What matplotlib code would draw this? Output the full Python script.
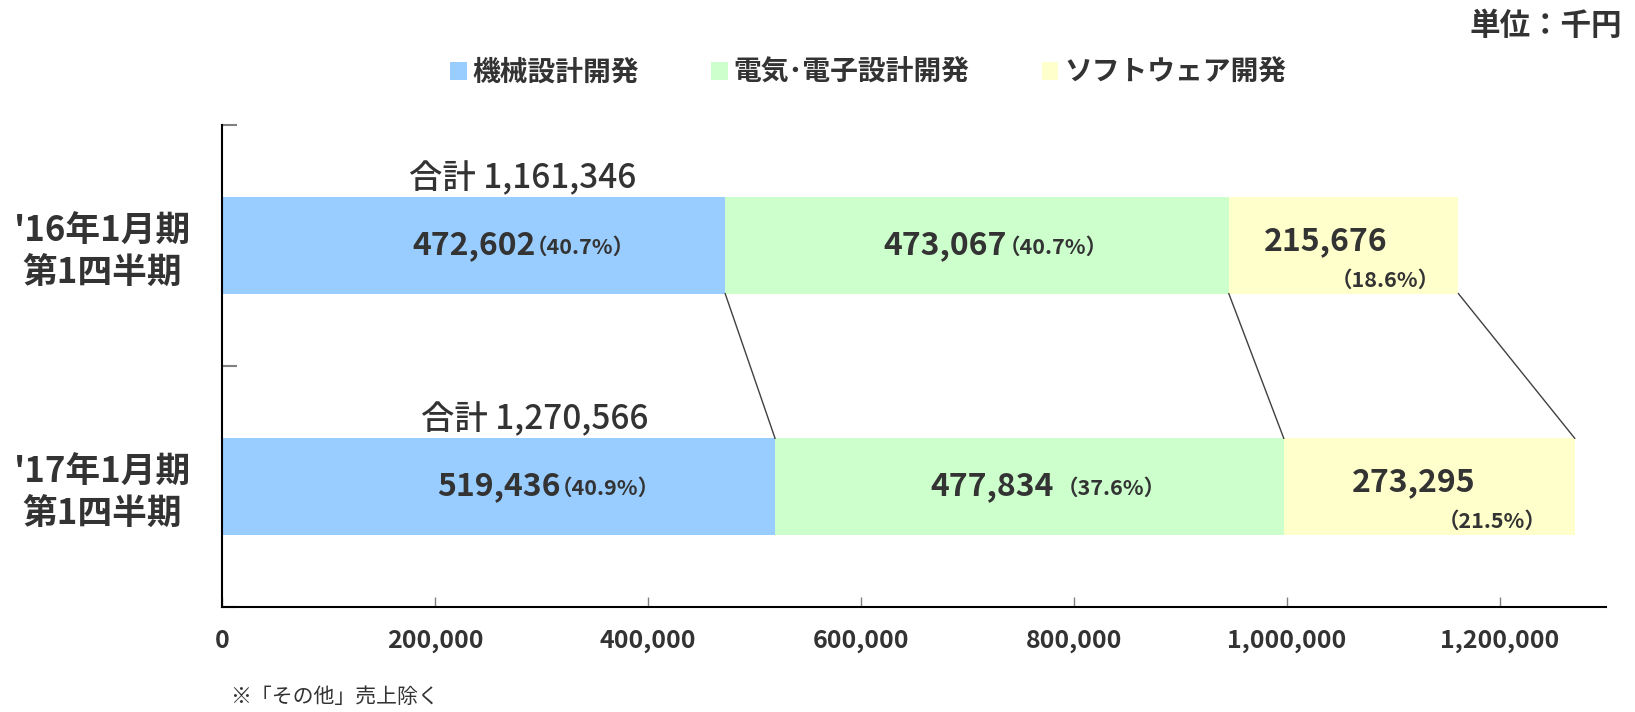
from matplotlib import pyplot as plt
from matplotlib.patches import Patch
import numpy as np

plt.rcParams['font.family'] = ['Noto Sans CJK JP', 'DejaVu Sans']

periods = ["'16年1月期\n第1四半期", "'17年1月期\n第1四半期"]
segments = ['機械設計開発', '電気･電子設計開発', 'ソフトウェア開発']
mech = [472602, 519436]
elec = [473067, 477834]
soft = [215676, 273295]
totals = [1161346, 1270566]
mech_pct = ['40.7%', '40.9%']
elec_pct = ['40.7%', '37.6%']
soft_pct = ['18.6%', '21.5%']
xticks = [0, 200000, 400000, 600000, 800000, 1000000, 1200000]

colors = ['#99CCFF', '#CCFFCC', '#FFFFCC']
text_color = '#333333'

if __name__ == '__main__':
	fig = plt.figure(figsize=(16.35, 7.12), dpi=100)
	ax = fig.add_axes([0.1358, 0.1475, 0.8465, 0.677])

	values = np.array([mech, elec, soft], dtype=float)
	lefts = np.vstack([np.zeros(2), np.cumsum(values, axis=0)[:-1]])
	rights = lefts + values
	pcts = [mech_pct, elec_pct, soft_pct]
	y = np.arange(len(periods))
	h = 0.40

	for i in range(3):
		ax.barh(y, values[i], left=lefts[i], height=h, color=colors[i], linewidth=0)

	# connector lines between the two bars
	for i in range(3):
		ax.plot([rights[i][0], rights[i][1]], [y[0] + h / 2, y[1] - h / 2],
				color='#404040', lw=1, zorder=1)

	# value labels: number offset (pt) from segment centre
	num_dx = [[0, 0], [-23, -27], [-13, -11]]
	pct_gap = [[-7, -7], [-6, 2]]
	for i in range(3):
		for j in range(2):
			cx = lefts[i][j] + values[i][j] / 2
			dy = 0 if i < 2 else 3
			t = ax.annotate(f'{int(values[i][j]):,}', (cx, y[j]), xytext=(num_dx[i][j], dy),
							textcoords='offset points', ha='center', va='center',
							fontsize=23, fontweight='bold', color=text_color)
			if i < 2:
				ax.annotate(f'（{pcts[i][j]}）', xy=(1, 0.5), xycoords=t, xytext=(pct_gap[i][j], -1),
							textcoords='offset points', ha='left', va='center',
							fontsize=15.5, fontweight='bold', color=text_color)
			else:
				ax.annotate(f'（{pcts[i][j]}）', xy=(1, 0), xycoords=t, xytext=(38 + 13 * j, -9),
							textcoords='offset points', ha='right', va='top',
							fontsize=15.5, fontweight='bold', color=text_color)

	total_x = [282000, 294000]
	for j in range(2):
		ax.annotate(f'合計 {totals[j]:,}', (total_x[j], y[j] - h / 2), xytext=(0, 13),
					textcoords='offset points', ha='center', va='center',
					fontsize=24, fontweight='medium', color=text_color)

	ax.set_xlim(0, 1300000)
	ax.set_ylim(1.5, -0.5)
	ax.set_xticks(xticks)
	ax.set_xticklabels([f'{v:,}' for v in xticks], fontsize=18, fontweight='bold', color=text_color)
	ax.tick_params(axis='x', direction='in', length=7, width=1, color='#808080', pad=16)

	ax.set_yticks([-0.5, 0.5, 1.5])
	ax.set_yticklabels([])
	ax.tick_params(axis='y', which='major', direction='in', length=11, width=1.5, color='#808080')
	ax.set_yticks(y, minor=True)
	ax.set_yticklabels(periods, minor=True, fontsize=25, fontweight='bold', color=text_color,
					   ha='center', multialignment='center', linespacing=1.25)
	ax.tick_params(axis='y', which='minor', length=0, pad=86)

	for s in ['top', 'right']:
		ax.spines[s].set_visible(False)
	for s in ['left', 'bottom']:
		ax.spines[s].set_linewidth(1.5)
		ax.spines[s].set_color('black')

	handles = [Patch(facecolor=c, edgecolor='none') for c in colors]
	fig.legend(handles, segments, loc='center', bbox_to_anchor=(0.531, 0.8975), ncol=3,
			   frameon=False, handlelength=0.6, handleheight=0.6, handletextpad=0.2,
			   columnspacing=2.6, prop={'size': 20, 'weight': 'bold'},
			   labelcolor=text_color)

	fig.text(0.992, 0.963, '単位：千円', ha='right', va='center', fontsize=22,
			 fontweight='bold', color=text_color)
	fig.text(0.141, 0.021, '※「その他」売上除く', ha='left', va='center', fontsize=15,
			 color=text_color)

	plt.savefig('out.png', dpi=100)
